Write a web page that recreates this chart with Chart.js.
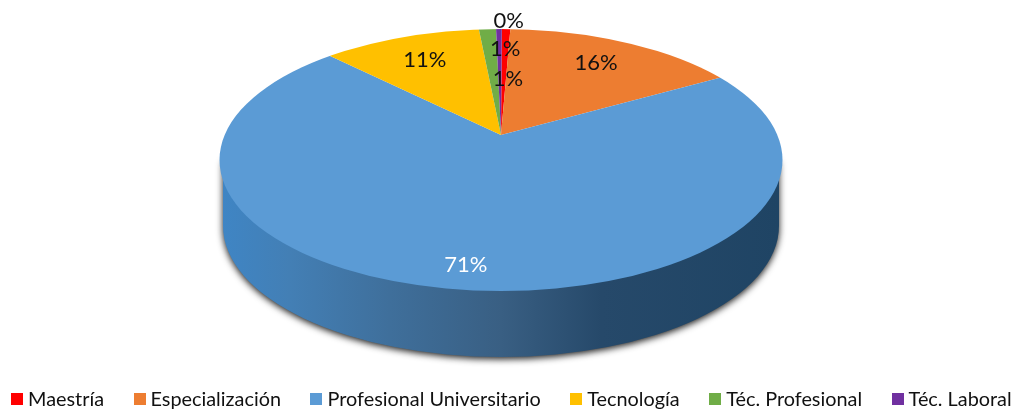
<!doctype html>
<html lang="en">

<head>
    <meta charset="utf-8">
    <title>Nivel de formación</title>
    <style>
        * {
            margin: 0;
            padding: 0;
        }

        body {
            width: 1018px;
            height: 409px;
            position: relative;
            overflow: hidden;
            background: white;
            font-family: Lato, sans-serif;
        }

        #myChart {
            display: block;
        }

        .chartLegend {
            position: absolute;
            left: 11px;
            top: 386px;
            display: flex;
            gap: 29.5px;
            font-size: 19.85px;
            line-height: 24px;
            color: #111;
            white-space: nowrap;
        }

        .chartLegend span {
            display: flex;
            align-items: center;
        }

        .chartLegend i {
            width: 12px;
            height: 12px;
            margin-right: 5px;
            position: relative;
            top: 1px;
        }
    </style>
</head>

<body>
    <canvas id="myChart" width="1018" height="409"></canvas>
    <div class="chartLegend" id="legend"></div>

    <script src="https://cdn.jsdelivr.net/npm/chart.js"></script>

    <script>
        const categories = ['Maestría', 'Especialización', 'Profesional Universitario', 'Tecnología', 'Téc. Profesional', 'Téc. Laboral']
        const shares = [0.6, 16.2, 70.6, 11.0, 1.2, 0.4]
        const colors = ['#ff0000', '#ed7d31', '#5b9bd5', '#ffc000', '#70ad47', '#7030a0']

        // where each percent label sits: distance from the apex, then a small nudge
        const labelRadius = [185, 182, 282, 178, 120, 245]
        const labelNudge = [0, 0, 3, 0, 14, 10]
        const labelColors = ['#111', '#111', '#fff', '#111', '#111', '#111']

        // tilted disc: apex is above the centre of the ellipse, like the 3D pie
        const apex = { x: 501, y: 135 }
        const top3d = { x: 501, y: 160, rx: 281.5, ry: 131 }
        const bottom3d = { x: 501, y: 226, rx: 278, ry: 131 }
        const tilt = 0.465

        const pie3d = {
            id: 'pie3d',
            beforeDatasetsDraw(chart) {
                const ctx = chart.ctx
                const arc = chart.getDatasetMeta(0).data[0]

                // side wall
                const wall = ctx.createLinearGradient(bottom3d.x - bottom3d.rx, 0, bottom3d.x + bottom3d.rx, 0)
                wall.addColorStop(0, '#3f85c4')
                wall.addColorStop(0.12, '#437fb5')
                wall.addColorStop(0.3, '#3f6f9b')
                wall.addColorStop(0.5, '#395f83')
                wall.addColorStop(0.68, '#26496a')
                wall.addColorStop(1, '#1f4464')

                ctx.save()
                ctx.shadowColor = 'rgba(0, 0, 0, 0.9)'
                ctx.shadowBlur = 7
                ctx.shadowOffsetX = 0
                ctx.shadowOffsetY = 2
                ctx.fillStyle = wall
                ctx.beginPath()
                ctx.moveTo(bottom3d.x - bottom3d.rx, top3d.y)
                ctx.lineTo(bottom3d.x - bottom3d.rx, bottom3d.y)
                ctx.ellipse(bottom3d.x, bottom3d.y, bottom3d.rx, bottom3d.ry, 0, Math.PI, 0, true)
                ctx.lineTo(bottom3d.x + bottom3d.rx, top3d.y)
                ctx.closePath()
                ctx.fill()
                ctx.restore()

                // top face: the arcs are squashed and cut to the ellipse
                ctx.save()
                ctx.beginPath()
                ctx.ellipse(top3d.x, top3d.y, top3d.rx, top3d.ry, 0, 0, Math.PI * 2)
                ctx.clip()
                ctx.translate(apex.x, apex.y)
                ctx.scale(1, tilt)
                ctx.translate(-arc.x, -arc.y)
            },
            afterDatasetsDraw(chart) {
                const ctx = chart.ctx
                ctx.restore()

                const total = shares.reduce((a, b) => a + b, 0)
                ctx.save()
                ctx.font = '22px Lato, sans-serif'
                ctx.textAlign = 'center'
                ctx.textBaseline = 'middle'
                chart.getDatasetMeta(0).data.forEach((arc, i) => {
                    const mid = (arc.startAngle + arc.endAngle) / 2
                    const x = apex.x + Math.cos(mid) * labelRadius[i] + labelNudge[i]
                    const y = apex.y + Math.sin(mid) * labelRadius[i] * tilt
                    ctx.fillStyle = labelColors[i]
                    ctx.fillText(Math.round(shares[i] / total * 100) + '%', x, y)
                })
                ctx.restore()
            }
        }

        const data = {
            labels: categories,
            datasets: [{
                data: shares,
                backgroundColor: colors,
                borderWidth: 0,
                clip: false
            }]
        }

        const config = {
            type: 'pie',
            data: data,
            options: {
                responsive: false,
                animation: false,
                events: [],
                rotation: 0.2,
                radius: 345,
                plugins: {
                    legend: { display: false },
                    tooltip: { enabled: false }
                }
            },
            plugins: [pie3d]
        }

        const myChart = new Chart(document.getElementById('myChart'), config)

        // legend row under the chart
        document.getElementById('legend').innerHTML = categories
            .map((name, i) => `<span><i style="background:${colors[i]}"></i>${name}</span>`)
            .join('')
    </script>
</body>

</html>
